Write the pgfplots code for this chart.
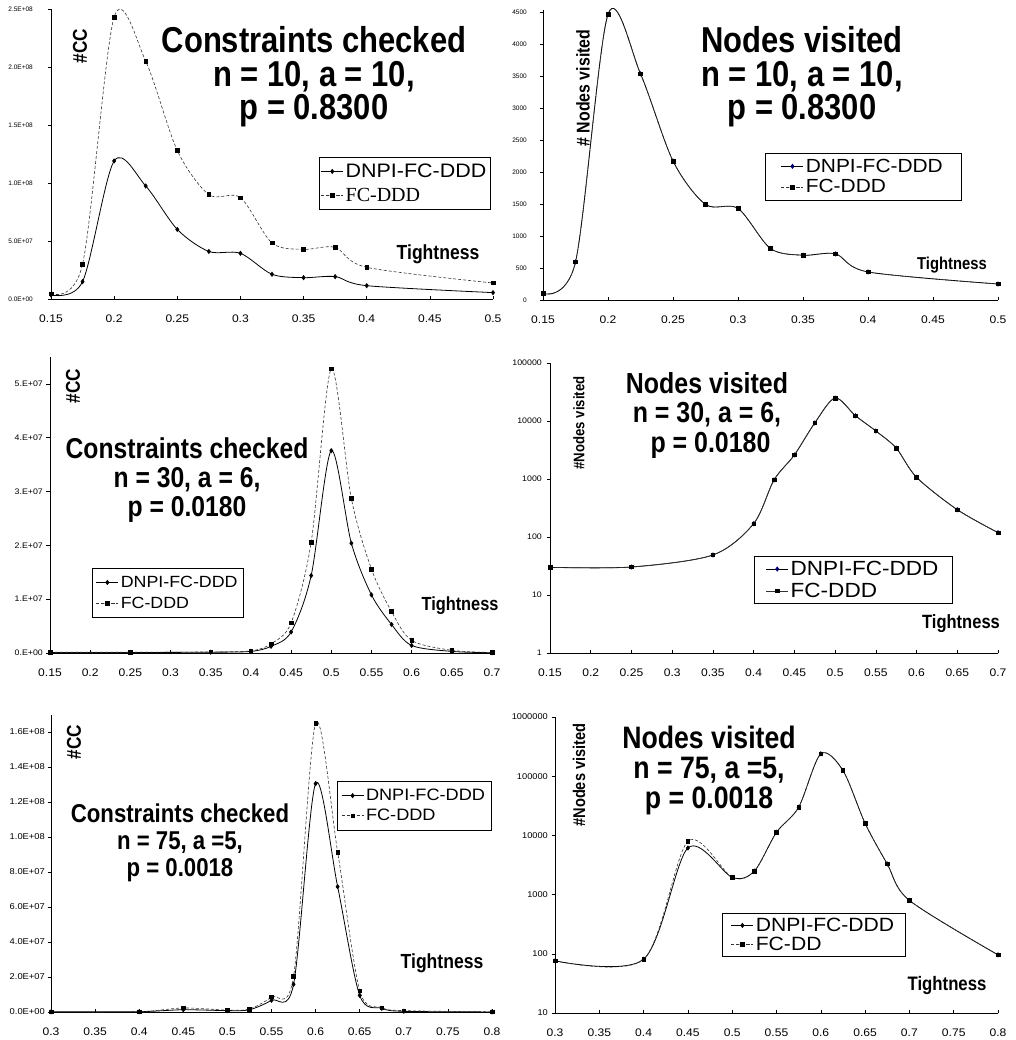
\documentclass[border=0pt]{standalone}
\usepackage{fontspec}
\setmainfont{Liberation Sans}
\newfontfamily\TF[FakeStretch=0.86]{Liberation Sans}
\newfontfamily\LF[FakeStretch=1.1]{Liberation Sans}
\newfontfamily\NF{Liberation Sans}
\newfontfamily\SF{Liberation Serif}
\newcommand\fs[1]{\fontsize{#1}{#1}\selectfont}
\newcommand\tfs[2]{\TF\bfseries\fontsize{#1}{#2}\selectfont\lineskiplimit=-60pt\relax}
\usepackage{pgfplots}
\pgfplotsset{compat=1.18}
\pgfplotsset{
  pan/.style={
    scale only axis, anchor=south west, clip=false,
    axis lines*=left,
    axis line style={black, line width=0.7pt},
    tick align=outside,
    major tick length=3.5pt,
    every tick/.style={black, line width=0.6pt},
    x tick style={yshift=3.5pt},
    yminorticks=false, xminorticks=false,
    scaled y ticks=false,
    /pgf/number format/assume math mode=true,
    xticklabel style={anchor=base, yshift=-20pt, inner sep=0pt, font=\LF\fs{11}},
    yticklabel style={anchor=east, inner sep=0pt},
    legend cell align=left,
    legend image code/.code={\draw[mark repeat=2,mark phase=2] plot coordinates {(0pt,0pt)(11pt,0pt)(22pt,0pt)};},
    legend style={anchor=north west, draw=black, line width=0.6pt, fill=white, inner sep=2pt, outer sep=0pt},
  },
  dn/.style={black, line width=0.8pt, smooth, mark=diamond*, mark size=2pt, mark options={solid}},
  fc/.style={black!80, line width=0.6pt, smooth, dash pattern=on 3pt off 2pt, mark=square*, mark size=1.8pt, mark options={solid, fill=black, draw=black}},
}
\begin{document}
\begin{tikzpicture}
\path[use as bounding box] (0pt,0pt) rectangle (1015pt,-1040pt);

% ---------------- Panel 1
\begin{axis}[pan, at={(51pt,-299pt)}, width=442pt, height=290pt,
  xmin=0.15, xmax=0.5, ymin=0, ymax=2.5e8,
  xtick={0.15,0.2,0.25,0.3,0.35,0.4,0.45,0.5},
  ytick={0,5e7,1e8,1.5e8,2e8,2.5e8},
  yticklabels={0.0E+00,5.0E+07,1.0E+08,1.5E+08,2.0E+08,2.5E+08},
  yticklabel style={font=\NF\fs{6.5}, xshift=-14.5pt},
  legend style={at={(0.606,0.490)}, font=\LF\fs{19.5}, row sep=5pt, inner ysep=5pt, inner xsep=2pt},
]
\addplot[dn] coordinates {(0.15,3.5e6)(0.175,1.5e7)(0.2,1.19e8)(0.225,9.74e7)(0.25,6.0e7)(0.275,4.1e7)(0.3,3.94e7)(0.325,2.13e7)(0.35,1.84e7)(0.375,1.93e7)(0.4,1.15e7)(0.5,5.5e6)};
\addlegendentry{DNPI-FC-DDD}
\addplot[fc] coordinates {(0.15,4.6e6)(0.175,3.0e7)(0.2,2.43e8)(0.225,2.05e8)(0.25,1.28e8)(0.275,9.0e7)(0.3,8.74e7)(0.325,4.83e7)(0.35,4.28e7)(0.375,4.45e7)(0.4,2.73e7)(0.5,1.38e7)};
\addlegendentry{\SF\fs{20}FC-DDD}
\end{axis}

% ---------------- Panel 2
\begin{axis}[pan, at={(543pt,-300pt)}, width=455pt, height=290pt,
  xmin=0.15, xmax=0.5, ymin=0, ymax=4530,
  xtick={0.15,0.2,0.25,0.3,0.35,0.4,0.45,0.5},
  ytick={0,500,1000,1500,2000,2500,3000,3500,4000,4500},
  yticklabels={0,500,1000,1500,2000,2500,3000,3500,4000,4500},
  yticklabel style={font=\NF\fs{6.5}, xshift=-12.5pt},
  legend style={at={(0.488,0.507)}, font=\LF\fs{19}, row sep=2pt, inner ysep=4pt, inner xsep=16pt},
]
\addplot[dn, mark options={solid, fill=blue!45!black, draw=blue!45!black}] coordinates {(0.15,100)(0.175,595)(0.2,4462)(0.225,3533)(0.25,2171)(0.275,1493)(0.3,1430)(0.325,804)(0.35,699)(0.375,720)(0.4,438)(0.5,250)};
\addlegendentry{DNPI-FC-DDD}
\addplot[fc] coordinates {(0.15,100)(0.175,595)(0.2,4462)(0.225,3533)(0.25,2171)(0.275,1493)(0.3,1430)(0.325,804)(0.35,699)(0.375,720)(0.4,438)(0.5,250)};
\addlegendentry{FC-DDD}
\end{axis}

% ---------------- Panel 3
\begin{axis}[pan, at={(50pt,-653pt)}, width=442pt, height=296pt,
  xmin=0.15, xmax=0.7, ymin=0, ymax=5.5e7,
  xtick={0.15,0.2,0.25,0.3,0.35,0.4,0.45,0.5,0.55,0.6,0.65,0.7},
  ytick={0,1e7,2e7,3e7,4e7,5e7},
  yticklabels={0.E+00,1.E+07,2.E+07,3.E+07,4.E+07,5.E+07},
  yticklabel style={font=\LF\fs{8}, xshift=-3.5pt},
  legend style={at={(0.095,0.287)}, font=\LF\fs{16.2}, row sep=4pt, inner ysep=6pt, inner xsep=4pt},
]
\addplot[dn] coordinates {(0.15,1e5)(0.25,1e5)(0.35,1.5e5)(0.4,3e5)(0.425,1.24e6)(0.45,3.9e6)(0.475,1.44e7)(0.5,3.76e7)(0.525,2.04e7)(0.55,1.08e7)(0.575,5.3e6)(0.6,1.4e6)(0.65,3e5)(0.7,5e4)};
\addlegendentry{DNPI-FC-DDD}
\addplot[fc] coordinates {(0.15,1.5e5)(0.25,1.5e5)(0.35,2e5)(0.4,4e5)(0.425,1.7e6)(0.45,5.6e6)(0.475,2.06e7)(0.5,5.28e7)(0.525,2.87e7)(0.55,1.56e7)(0.575,7.7e6)(0.6,2.35e6)(0.65,5e5)(0.7,1e5)};
\addlegendentry{FC-DDD}
\end{axis}

% ---------------- Panel 4
\begin{axis}[pan, at={(550pt,-653pt)}, width=448pt, height=290pt,
  ymode=log,
  xmin=0.15, xmax=0.7, ymin=1, ymax=1e5,
  xtick={0.15,0.2,0.25,0.3,0.35,0.4,0.45,0.5,0.55,0.6,0.65,0.7},
  ytick={1,10,100,1000,10000,100000},
  yticklabels={1,10,100,1000,10000,100000},
  yticklabel style={font=\LF\fs{8}, xshift=-4.5pt},
  legend style={at={(0.455,0.334)}, font=\LF\fs{20.5}, row sep=2pt, inner ysep=3pt, inner xsep=12pt},
]
\addplot[dn, mark options={solid, fill=blue!45!black, draw=blue!45!black}] coordinates {(0.15,30)(0.25,30.4)(0.35,49)(0.4,170)(0.425,962)(0.45,2594)(0.475,9240)(0.5,24900)(0.525,12330)(0.55,6730)(0.575,3420)(0.6,1069)(0.65,296)(0.7,119)};
\addlegendentry{DNPI-FC-DDD}
\addplot[fc, solid] coordinates {(0.15,30)(0.25,30.4)(0.35,49)(0.4,170)(0.425,962)(0.45,2594)(0.475,9240)(0.5,24900)(0.525,12330)(0.55,6730)(0.575,3420)(0.6,1069)(0.65,296)(0.7,119)};
\addlegendentry{FC-DDD}
\end{axis}

% ---------------- Panel 5
\begin{axis}[pan, at={(51pt,-1012pt)}, width=441pt, height=297.5pt,
  xmin=0.3, xmax=0.8, ymin=0, ymax=1.7e8,
  xtick={0.3,0.35,0.4,0.45,0.5,0.55,0.6,0.65,0.7,0.75,0.8},
  ytick={0,2e7,4e7,6e7,8e7,1e8,1.2e8,1.4e8,1.6e8},
  yticklabels={0.0E+00,2.0E+07,4.0E+07,6.0E+07,8.0E+07,1.0E+08,1.2E+08,1.4E+08,1.6E+08},
  yticklabel style={font=\LF\fs{8.5}, xshift=-2.5pt},
  legend style={at={(0.649,0.776)}, font=\LF\fs{16.5}, row sep=3pt, inner ysep=6pt, inner xsep=4pt},
]
\addplot[dn] coordinates {(0.3,1e5)(0.4,2e5)(0.45,1.3e6)(0.5,8e5)(0.525,1.3e6)(0.55,6.7e6)(0.575,1.58e7)(0.6,1.305e8)(0.625,7.16e7)(0.65,9.5e6)(0.675,2.1e6)(0.7,4e5)(0.8,5e4)};
\addlegendentry{DNPI-FC-DDD}
\addplot[fc] coordinates {(0.3,1e5)(0.4,2e5)(0.45,2.3e6)(0.5,1.1e6)(0.525,1.7e6)(0.55,8.6e6)(0.575,2.04e7)(0.6,1.65e8)(0.625,9.14e7)(0.65,1.22e7)(0.675,2.5e6)(0.7,8e5)(0.8,1e5)};
\addlegendentry{FC-DDD}
\end{axis}

% ---------------- Panel 6
\begin{axis}[pan, at={(555pt,-1013pt)}, width=443pt, height=296pt,
  ymode=log,
  xmin=0.3, xmax=0.8, ymin=10, ymax=1e6,
  xtick={0.3,0.35,0.4,0.45,0.5,0.55,0.6,0.65,0.7,0.75,0.8},
  ytick={10,100,1000,10000,100000,1000000},
  yticklabels={10,100,1000,10000,100000,1000000},
  yticklabel style={font=\LF\fs{8.4}, xshift=-3.5pt},
  legend style={at={(0.377,0.338)}, font=\LF\fs{19.2}, row sep=0pt, inner ysep=3pt, inner xsep=9pt},
]
\addplot[dn] coordinates {(0.3,76)(0.4,81)(0.45,6130)(0.5,1955)(0.525,2500)(0.55,11300)(0.575,29900)(0.6,239000)(0.625,125000)(0.65,16000)(0.675,3290)(0.7,798)(0.8,96)};
\addlegendentry{DNPI-FC-DDD}
\addplot[fc] coordinates {(0.3,76)(0.4,81)(0.45,7950)(0.5,1955)(0.525,2500)(0.55,11300)(0.575,29900)(0.6,239000)(0.625,125000)(0.65,16000)(0.675,3290)(0.7,798)(0.8,96)};
\addlegendentry{FC-DD}
\end{axis}

% ---------------- Titles (one node each)
\begin{scope}[every node/.style={anchor=north, inner sep=0pt, align=center}]
\node[font=\tfs{36}{33.5}] at (314pt,-26.5pt) {Constraints checked\\n = 10, a = 10,\\p = 0.8300};
\node[font=\tfs{36}{33.5}] at (802pt,-26.5pt) {Nodes visited\\n = 10, a = 10,\\p = 0.8300};
\node[font=\tfs{28.7}{29}] at (187pt,-437.1pt) {Constraints checked\\n = 30, a = 6,\\p = 0.0180};
\node[font=\tfs{29}{29.5}] at (707pt,-372.2pt) {Nodes visited\\n = 30, a = 6,\\\ p = 0.0180};
\node[font=\tfs{25.8}{27}] at (180pt,-803.2pt) {Constraints checked\\n = 75, a =5,\\p = 0.0018};
\node[font=\tfs{31}{30}] at (709pt,-725.8pt) {Nodes visited\\n = 75, a =5,\\p = 0.0018};
\end{scope}

% Tightness
\begin{scope}[every node/.style={anchor=base, inner sep=0pt}]
\node[font=\TF\bfseries\fs{20.4}] at (438pt,-260pt) {Tightness};
\node[font=\TF\bfseries\fs{17.2}] at (952pt,-270pt) {Tightness};
\node[font=\TF\bfseries\fs{19}] at (460pt,-610pt) {Tightness};
\node[font=\TF\bfseries\fs{19.2}] at (961pt,-628pt) {Tightness};
\node[font=\TF\bfseries\fs{20.4}] at (442pt,-968pt) {Tightness};
\node[font=\TF\bfseries\fs{19.5}] at (947pt,-990pt) {Tightness};
\end{scope}

% Y labels
\begin{scope}[every node/.style={anchor=center, inner sep=0pt, rotate=90}]
\node[font=\TF\bfseries\fs{20}] at (80pt,-46pt) {\#CC};
\node[font=\TF\bfseries\fs{18.5}] at (583pt,-88pt) {\# Nodes visited};
\node[font=\TF\bfseries\fs{20}] at (73pt,-386pt) {\#CC};
\node[font=\TF\bfseries\fs{15.3}] at (579pt,-423pt) {\#Nodes visited};
\node[font=\TF\bfseries\fs{20}] at (74pt,-742pt) {\#CC};
\node[font=\TF\bfseries\fs{17}] at (579pt,-775pt) {\#Nodes visited};
\end{scope}
\end{tikzpicture}
\end{document}
